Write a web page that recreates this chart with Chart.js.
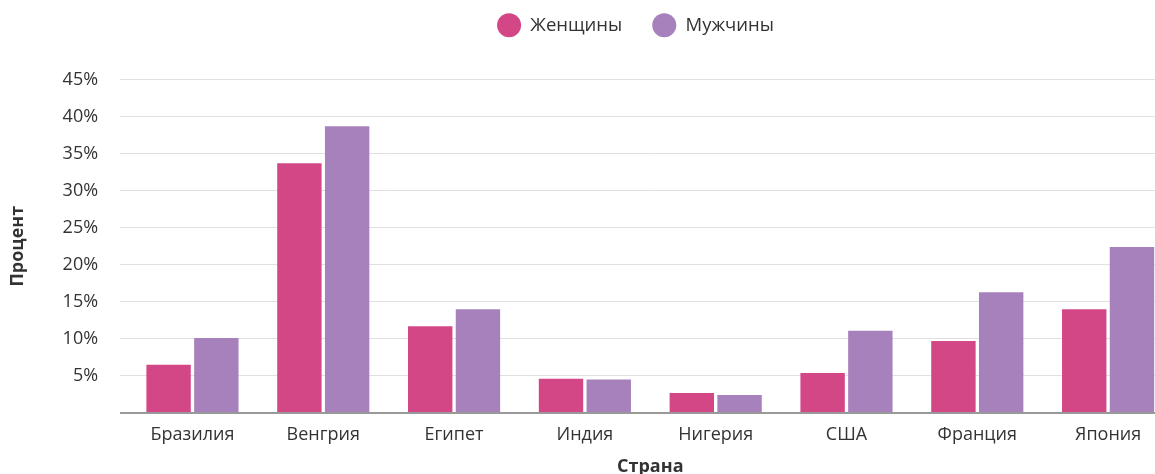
<!DOCTYPE html>
<html>
<head>
<meta charset="utf-8">
<script src="https://cdn.jsdelivr.net/npm/chart.js@4/dist/chart.umd.min.js"></script>
<style>
  html, body { margin: 0; padding: 0; background: #fff; overflow: hidden; }
  #clip { width: 1155px; height: 474px; overflow: hidden; }
  #wrap { width: 1271px; height: 490px; margin-top: -14px; }
</style>
</head>
<body>
<div id="clip"><div id="wrap"><canvas id="chart"></canvas></div></div>
<script>
const countries = ['Бразилия', 'Венгрия', 'Египет', 'Индия', 'Нигерия', 'США', 'Франция', 'Япония'];
const women = [6.5, 33.7, 11.7, 4.6, 2.7, 5.4, 9.7, 14.0];
const men = [10.1, 38.7, 14.0, 4.5, 2.4, 11.1, 16.3, 22.4];

const font = 'Open Sans, Noto Sans, sans-serif';

new Chart(document.getElementById('chart'), {
    type: 'bar',
    data: {
        labels: countries,
        datasets: [{
            label: 'Женщины',
            data: women,
            backgroundColor: '#d44787',
        }, {
            label: 'Мужчины',
            data: men,
            backgroundColor: '#a781bb',
        }],
    },
    options: {
        responsive: true,
        maintainAspectRatio: false,
        animation: false,
        layout: { padding: 0 },
        datasets: {
            bar: { categoryPercentage: 0.73, barPercentage: 0.93 },
        },
        plugins: {
            legend: {
                position: 'top',
                labels: {
                    usePointStyle: true,
                    pointStyle: 'circle',
                    pointStyleWidth: 24,
                    boxHeight: 17,
                    padding: 30,
                    color: '#333',
                    font: { family: font, size: 18.5 },
                },
            },
            // empty spacer between legend and plot
            title: {
                display: true,
                text: '',
                weight: 500,
                font: { size: 10 },
                padding: { top: 0, bottom: 23 },
            },
            tooltip: { enabled: false },
        },
        scales: {
            x: {
                grid: { display: false, drawTicks: false },
                border: { color: '#999', width: 2 },
                ticks: { color: '#333', font: { family: font, size: 18 }, padding: 11.5 },
                title: {
                    display: true,
                    text: 'Страна',
                    color: '#333',
                    font: { family: font, size: 18, weight: 'bold', lineHeight: 1 },
                    padding: { top: 0.5, bottom: 0 },
                },
            },
            y: {
                min: 0,
                max: 45,
                grid: {
                    color: (c) => (c.tick && c.tick.value === 0 ? '#999' : '#e0e0e0'),
                    lineWidth: (c) => (c.tick && c.tick.value === 0 ? 2 : 1),
                    tickLength: 7,
                },
                border: { display: false },
                ticks: {
                    stepSize: 5,
                    color: '#333',
                    padding: 22,
                    font: { family: font, size: 18 },
                    callback: (v) => (v === 0 ? '' : v + '%'),
                },
                title: {
                    display: true,
                    text: 'Процент',
                    color: '#333',
                    font: { family: font, size: 18, weight: 'bold' },
                    padding: { top: 7, bottom: 12 },
                },
            },
            // invisible right-hand box so the plot runs past the visible edge
            pad: {
                type: 'linear',
                position: 'right',
                display: true,
                grid: { display: false },
                border: { display: false },
                ticks: { display: false },
                afterFit: (s) => { s.width = 97.5; },
            },
        },
    },
});
</script>
</body>
</html>
